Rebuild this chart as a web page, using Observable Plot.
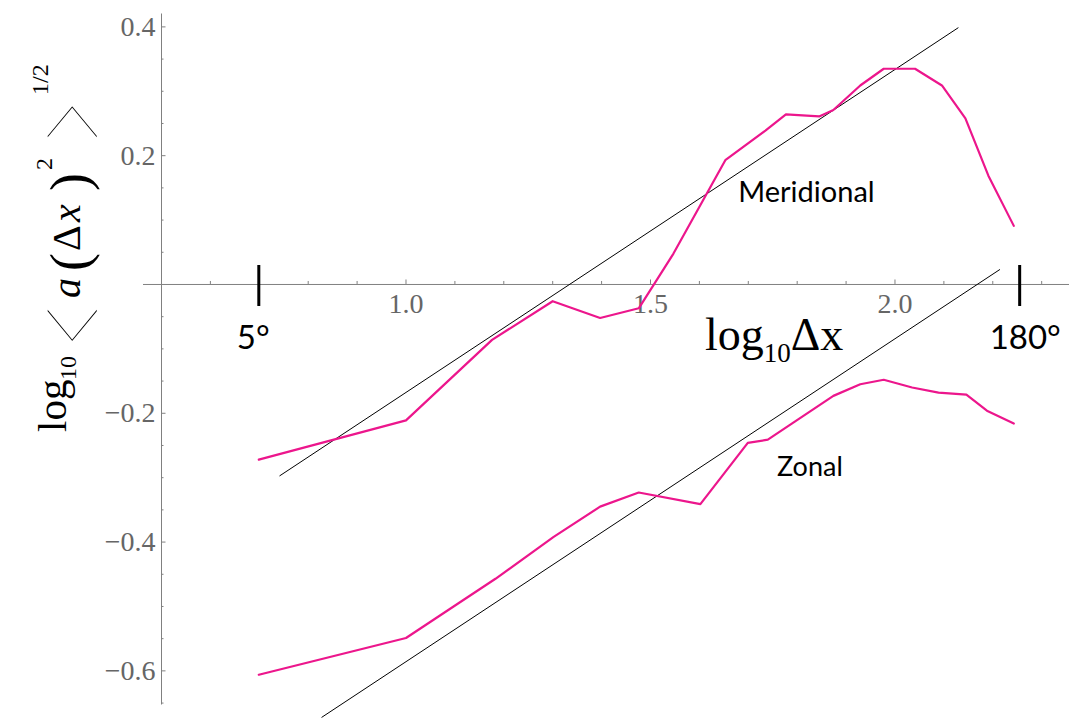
<!DOCTYPE html>
<html><head><meta charset="utf-8">
<script src="https://cdn.jsdelivr.net/npm/d3@7"></script>
<script src="https://cdn.jsdelivr.net/npm/@observablehq/plot@0.6"></script>
<style>body{margin:0;background:#fff;} svg{display:block}</style>
</head><body><div id="chart"></div>
<script>
// log10 of separation (degrees)
const meridionalX = [0.699, 1.0, 1.176, 1.300, 1.397, 1.476, 1.547, 1.653, 1.735, 1.777, 1.845, 1.874, 1.929, 1.977, 2.041, 2.096, 2.144, 2.191, 2.243];
const meridionalY = [-0.272, -0.211, -0.086, -0.026, -0.052, -0.037, 0.048, 0.193, 0.239, 0.264, 0.261, 0.271, 0.309, 0.335, 0.335, 0.309, 0.258, 0.169, 0.091];
const zonalX = [0.699, 1.0, 1.183, 1.302, 1.397, 1.476, 1.602, 1.699, 1.740, 1.874, 1.929, 1.977, 2.035, 2.089, 2.146, 2.188, 2.243];
const zonalY = [-0.606, -0.549, -0.457, -0.392, -0.345, -0.323, -0.341, -0.246, -0.241, -0.173, -0.155, -0.148, -0.160, -0.168, -0.171, -0.196, -0.216];
// slope-1/2 reference lines (endpoints)
const fitMeridionalX = [0.742, 2.129];
const fitMeridionalY = [-0.297, 0.3985];
const fitZonalX = [0.828, 2.214];
const fitZonalY = [-0.672, 0.023];
// axis ticks
const xMajorTicks = [1.0, 1.5, 2.0];
const xTickLabels = ["1.0", "1.5", "2.0"];
const xMinorTicks = [0.6, 0.7, 0.8, 0.9, 1.1, 1.2, 1.3, 1.4, 1.6, 1.7, 1.8, 1.9, 2.1, 2.2, 2.3];
const yMajorTicks = [-0.6, -0.4, -0.2, 0.2, 0.4];
const yTickLabels = ["\u22120.6", "\u22120.4", "\u22120.2", "0.2", "0.4"];
const yMinorTicks = [-0.65, -0.55, -0.5, -0.45, -0.35, -0.3, -0.25, -0.15, -0.1, -0.05, 0.05, 0.1, 0.15, 0.25, 0.3, 0.35];
// range markers (5 deg and 180 deg)
const markerX = [0.699, 2.255];
const markerLabels = ["5\u00b0", "180\u00b0"];
const markerLabelX = [0.6875, 2.2663];
// curve labels
const curveLabels = ["Meridional", "Zonal"];
const curveLabelX = [1.6795, 1.7587];
const curveLabelY = [0.1421, -0.2837];

const meridional = meridionalX.map((x, i) => ({x, y: meridionalY[i]}));
const zonal = zonalX.map((x, i) => ({x, y: zonalY[i]}));
const fit1 = fitMeridionalX.map((x, i) => ({x, y: fitMeridionalY[i]}));
const fit2 = fitZonalX.map((x, i) => ({x, y: fitZonalY[i]}));

const W = 1069, H = 719, ML = 161, MR = 0, MT = 13.5, MB = 14.5;
const xDom = [0.5, 2.3569], yDom = [-0.653, 0.42];
const pxX = (xDom[1] - xDom[0]) / (W - ML - MR);
const pxY = (yDom[1] - yDom[0]) / (H - MT - MB);
const axisColor = "#808080";
const tickText = "#666666";
const pink = "#ec168c";

const plot = Plot.plot({
  width: W, height: H,
  marginLeft: ML, marginRight: MR, marginTop: MT, marginBottom: MB,
  x: {domain: xDom, axis: null},
  y: {domain: yDom, axis: null},
  style: {background: "#fff", overflow: "visible"},
  marks: [
    Plot.ruleY([0], {x1: 0.5 - 18 * pxX, x2: xDom[1], stroke: axisColor, strokeWidth: 1}),
    Plot.ruleX([0.5], {y1: yDom[0], y2: 0.42, stroke: axisColor, strokeWidth: 1}),
    Plot.ruleY(yMajorTicks, {x1: 0.5, x2: 0.5 + 4.5 * pxX, stroke: axisColor}),
    Plot.ruleY(yMinorTicks, {x1: 0.5, x2: 0.5 + 2.5 * pxX, stroke: axisColor}),
    Plot.ruleX(xMajorTicks, {y1: 0, y2: 4.5 * pxY, stroke: axisColor}),
    Plot.ruleX(xMinorTicks, {y1: 0, y2: 3 * pxY, stroke: axisColor}),
    Plot.text(yMajorTicks, {x: 0.5, y: d => d, text: (d, i) => yTickLabels[i], dx: -6, textAnchor: "end",
      fontFamily: "Liberation Serif, serif", fontSize: 28, fill: tickText}),
    Plot.text(xMajorTicks, {x: d => d, y: 0, text: (d, i) => xTickLabels[i], dy: 20,
      fontFamily: "Liberation Serif, serif", fontSize: 28, fill: tickText}),
    Plot.line(fit1, {x: "x", y: "y", stroke: "black", strokeWidth: 1}),
    Plot.line(fit2, {x: "x", y: "y", stroke: "black", strokeWidth: 1}),
    Plot.line(meridional, {x: "x", y: "y", stroke: pink, strokeWidth: 2.2}),
    Plot.line(zonal, {x: "x", y: "y", stroke: pink, strokeWidth: 2.2}),
    Plot.ruleX(markerX, {y1: -22 * pxY, y2: 19 * pxY, stroke: "black", strokeWidth: 3}),
    Plot.text(markerLabels, {x: (d, i) => markerLabelX[i], y: -0.084, text: d => d,
      fontFamily: "Lato, sans-serif", fontSize: 33, fill: "black"}),
    Plot.text([curveLabels[0]], {x: curveLabelX[0], y: curveLabelY[0], text: d => d, textAnchor: "start",
      fontFamily: "Lato, sans-serif", fontSize: 29, fill: "black"}),
    Plot.text([curveLabels[1]], {x: curveLabelX[1], y: curveLabelY[1], text: d => d, textAnchor: "start",
      fontFamily: "Lato, sans-serif", fontSize: 27, fill: "black"})
  ]
});

document.getElementById("chart").appendChild(plot);

const svg = d3.select(plot);
// x axis title
const xt = svg.append("text")
  .attr("x", 705).attr("y", 350).attr("text-anchor", "start")
  .attr("font-family", "Liberation Serif, serif").attr("fill", "black");
xt.append("tspan").text("log").attr("font-size", 46);
xt.append("tspan").text("10").attr("font-size", 27).attr("dy", 12);
xt.append("tspan").text("\u0394x").attr("font-size", 46).attr("dy", -12);

// y axis title, rotated; each piece placed along the vertical run
const yg = svg.append("g").attr("transform", "rotate(-90)")
  .attr("text-anchor", "start").attr("font-family", "Liberation Serif, serif").attr("fill", "black");
const br = "DejaVu Sans, sans-serif";
// brackets are drawn first (thinned with a white outline), the rest on top
const pieces = [
  {t: "\u27e8", size: 60, start: 325, base: 91, font: br, sx: 3.9, anchor: "middle", thin: 4.4},
  {t: "\u27e9", size: 60, start: 122, base: 91, font: br, sx: 3.9, anchor: "middle", thin: 4.4},
  {t: "log", size: 41, start: 432, base: 66},
  {t: "10", size: 24, start: 380, base: 76},
  {t: "a", size: 40, start: 298, base: 80, italic: true},
  {t: "(", size: 54, start: 271, base: 88},
  {t: "\u0394", size: 40, start: 251, base: 80},
  {t: "x", size: 40, start: 222, base: 80, italic: true},
  {t: ")", size: 54, start: 191, base: 88},
  {t: "2", size: 24, start: 170, base: 52},
  {t: "1/2", size: 24, start: 95, base: 48}
];
pieces.forEach(p => {
  const t = yg.append("text").text(p.t).attr("font-size", p.size)
    .attr("transform", `translate(${-p.start},${p.base}) scale(${p.sx || 1},1)`);
  if (p.italic) t.attr("font-style", "italic");
  if (p.font) t.attr("font-family", p.font);
  if (p.anchor) t.attr("text-anchor", p.anchor);
  if (p.thin) t.attr("stroke", "#fff").attr("stroke-width", p.thin).attr("paint-order", "fill");
});
</script></body></html>
